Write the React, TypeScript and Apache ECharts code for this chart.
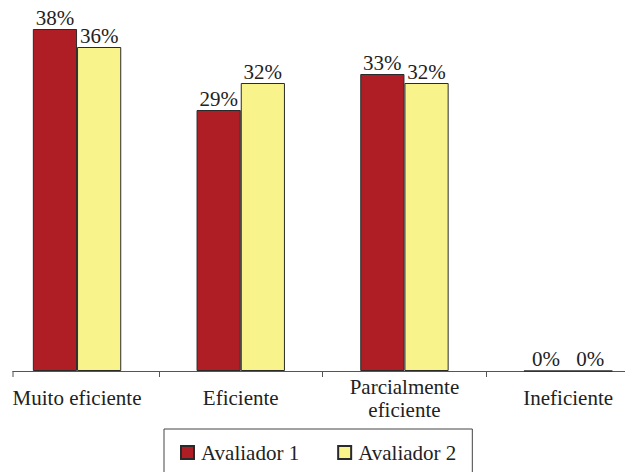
import React, { useEffect, useRef } from "react";
import * as echarts from "echarts";

const categories = ["Muito eficiente", "Eficiente", "Parcialmente\neficiente", "Ineficiente"];
const avaliador1 = [38, 29, 33, 0];
const avaliador2 = [36, 32, 32, 0];
const seriesNames = ["Avaliador 1", "Avaliador 2"];

const FONT = "serif";

export default function App() {
  const ref = useRef<HTMLDivElement>(null);
  useEffect(() => {
    if (!ref.current) return;
    const chart = echarts.init(ref.current, undefined, { renderer: "svg" });
    const label = {
      show: true,
      position: "top" as const,
      distance: 1,
      formatter: "{c}%",
      fontFamily: FONT,
      fontSize: 21,
      color: "#222",
    };
    chart.setOption({
      animation: false,
      backgroundColor: "#fff",
      textStyle: { fontFamily: FONT },
      grid: {
        left: -4.8,
        width: 654.8,
        top: 11,
        height: 360,
        containLabel: false,
        outerBoundsMode: "none",
      },
      xAxis: {
        type: "category",
        data: categories,
        axisLine: { show: true, lineStyle: { color: "#555", width: 1 } },
        axisTick: { show: true, length: 6, lineStyle: { color: "#555" } },
        axisLabel: {
          fontFamily: FONT,
          fontSize: 21,
          color: "#222",
          margin: 27,
          verticalAlign: "middle",
          lineHeight: 23,
          interval: 0,
        },
      },
      yAxis: { type: "value", min: 0, max: 40, show: false, splitLine: { show: false } },
      legend: {
        left: 164,
        top: 429,
        padding: [13, 16, 30, 16],
        borderColor: "#444",
        borderWidth: 1,
        itemWidth: 13,
        itemHeight: 13,
        itemGap: 38,
        icon: "rect",
        textStyle: { fontFamily: FONT, fontSize: 21, color: "#222", padding: [0, 0, 0, 2] },
        data: seriesNames,
      },
      series: [
        {
          name: seriesNames[0],
          type: "bar",
          data: avaliador1,
          barGap: "0%",
          barCategoryGap: "46%",
          itemStyle: { color: "#AF1E24", borderColor: "#2a2a2a", borderWidth: 1 },
          label,
        },
        {
          name: seriesNames[1],
          type: "bar",
          data: avaliador2,
          barGap: "0%",
          barCategoryGap: "46%",
          itemStyle: { color: "#F9F38B", borderColor: "#2a2a2a", borderWidth: 1 },
          label,
        },
      ],
      graphic: [
        { type: "rect", shape: { x: 0, y: 366, width: 12.5, height: 14 }, style: { fill: "#fff" }, z: 100 },
        { type: "line", shape: { x1: 13, y1: 371, x2: 13, y2: 377 }, style: { stroke: "#555", lineWidth: 1 }, z: 101 },
      ],
    });
    return () => chart.dispose();
  }, []);
  return <div ref={ref} style={{ width: 625, height: 472, position: "absolute", left: 0, top: 0 }} />;
}
